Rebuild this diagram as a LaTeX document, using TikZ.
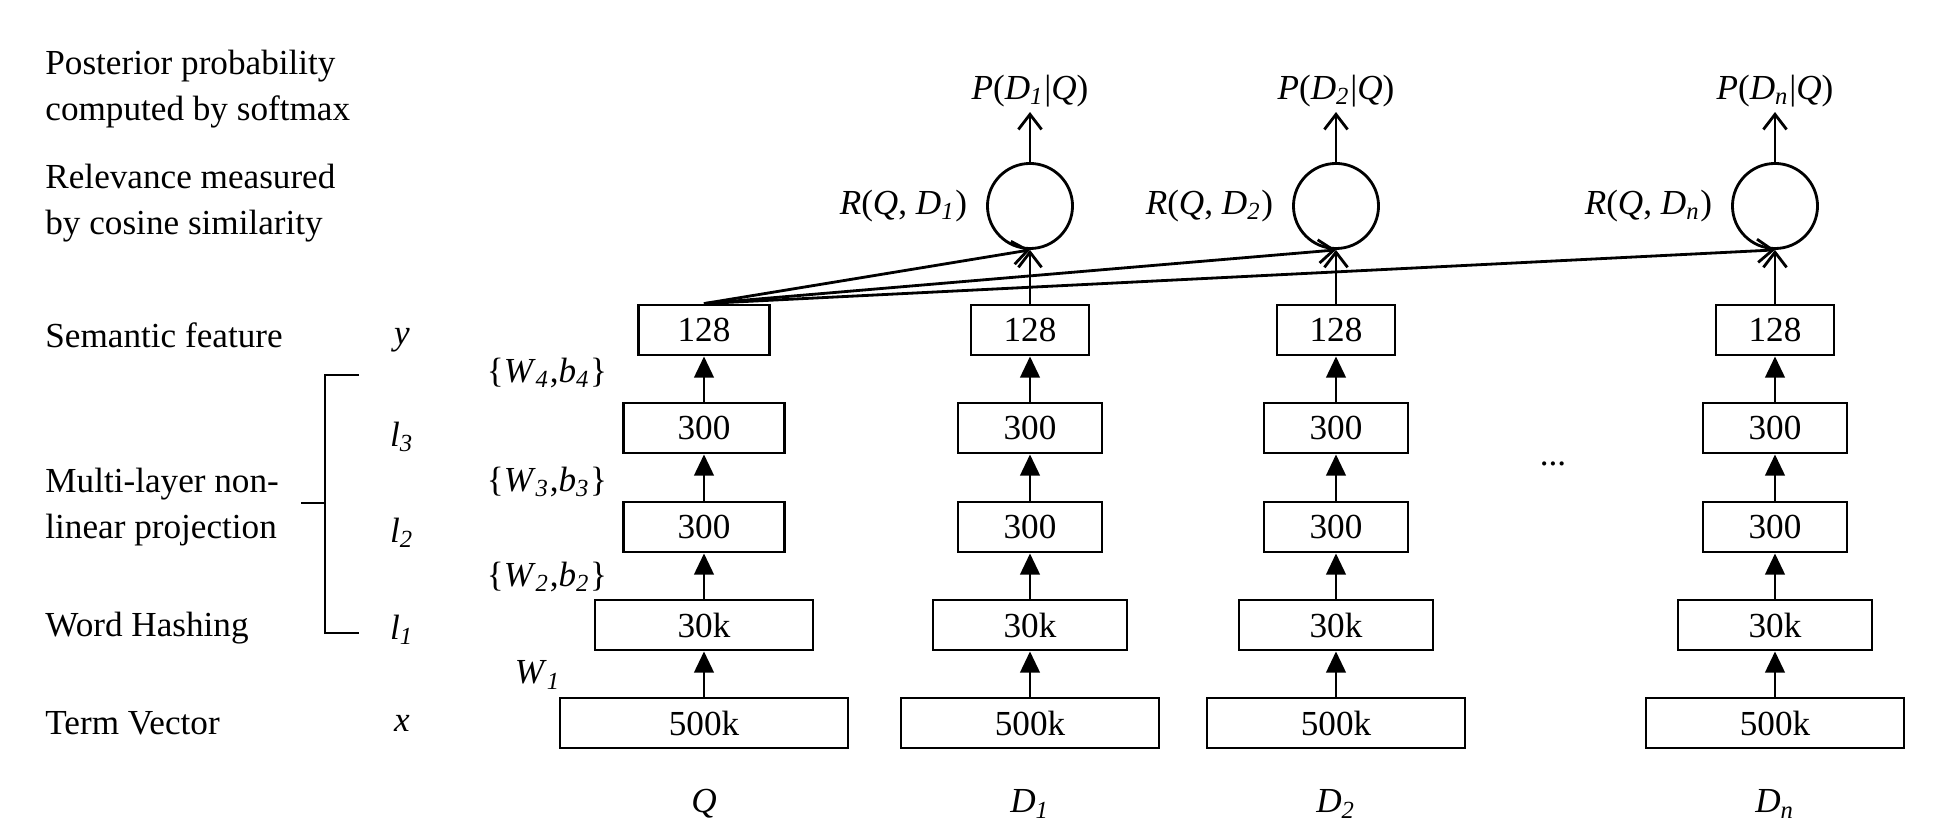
\documentclass[tikz,border=0pt]{standalone}
\usepackage{fontspec}
\setmainfont{Liberation Serif}
\usetikzlibrary{arrows.meta,positioning}

\newcommand{\itx}[1]{\textit{#1}}
\newcommand{\itsub}[1]{\textsubscript{\textit{#1}}}

\begin{document}
\begin{tikzpicture}[x=0.01cm,y=-0.01cm,line width=0.8pt,
        font=\fontsize{10}{13}\selectfont,
        layer/.style={draw,rectangle,inner sep=0pt,minimum height=0.5cm},
        w500/.style={layer,minimum width=2.58cm},
        w30/.style={layer,minimum width=1.94cm},
        w300/.style={layer,minimum width=1.44cm},
        w128/.style={layer,minimum width=1.18cm},
        sim/.style={draw,circle,inner sep=0pt,minimum size=0.85cm},
        fwd/.style={-{Triangle[length=6pt,width=5.5pt]}},
        toward/.style={-{Straight Barb[length=4.3pt,width=6.6pt]}},
        lbl/.style={inner sep=1pt}]
    \useasboundingbox (0,0) rectangle (1938,828);

    % captions on the left
    \begin{scope}[every node/.style={anchor=west,align=left,inner sep=0pt}]
        \node (post) at (44,89) {Posterior probability\\computed by softmax};
        \node (rel) at (44,203) {Relevance measured\\by cosine similarity};
        \node (sem) at (44,335) {Semantic feature};
        \node (mlp) at (44,507) {Multi-layer non-\\linear projection};
        \node (hash) at (44,628) {Word Hashing};
        \node (term) at (44,723) {Term Vector};
    \end{scope}

    \node (vy) at (402,340) {\itx{y}};
    \node (vl3) at (402,437) {\itx{l}\itsub{3}};
    \node (vl2) at (402,533) {\itx{l}\itsub{2}};
    \node (vl1) at (402,630) {\itx{l}\itsub{1}};
    \node (vx) at (402,723) {\itx{x}};
    \draw (359,375) -- (325,375) -- (325,633) -- (359,633) (301,503) -- (325,503);

    \node (wb4) at (547,373) {\{\itx{W}\itsub{4},\itx{b}\itsub{4}\}};
    \node (wb3) at (547,482) {\{\itx{W}\itsub{3},\itx{b}\itsub{3}\}};
    \node (wb2) at (547,577) {\{\itx{W}\itsub{2},\itx{b}\itsub{2}\}};
    \node (w1) at (538,675) {\itx{W}\itsub{1}};

    % query
    \node[layer,minimum width=2.88cm] (Qx) at (704,723) {500k};
    \node[layer,minimum width=2.18cm] (Ql1) at (704,625) {30k};
    \node[layer,minimum width=1.61cm] (Ql2) at (704,527) {300};
    \node[layer,minimum width=1.61cm] (Ql3) at (704,428) {300};
    \node[layer,minimum width=1.31cm] (Qy) at (704,330) {128};

    % documents
    \node[w500] (Ax) at (1030,723) {500k};
    \node[w30] (Al1) at (1030,625) {30k};
    \node[w300] (Al2) at (1030,527) {300};
    \node[w300] (Al3) at (1030,428) {300};
    \node[w128] (Ay) at (1030,330) {128};

    \node[w500] (Bx) at (1336,723) {500k};
    \node[w30] (Bl1) at (1336,625) {30k};
    \node[w300] (Bl2) at (1336,527) {300};
    \node[w300] (Bl3) at (1336,428) {300};
    \node[w128] (By) at (1336,330) {128};

    \node[w500] (Nx) at (1775,723) {500k};
    \node[w30] (Nl1) at (1775,625) {30k};
    \node[w300] (Nl2) at (1775,527) {300};
    \node[w300] (Nl3) at (1775,428) {300};
    \node[w128] (Ny) at (1775,330) {128};

    \node (dots) at (1553,464) {...};

    \node (colq) at (704,804) {\itx{Q}};
    \node (cola) at (1030,804) {\itx{D}\itsub{1}};
    \node (colb) at (1336,804) {\itx{D}\itsub{2}};
    \node (coln) at (1775,804) {\itx{D}\itsub{n}};

    % relevance and posterior
    \node[sim] (Ra) at (1030,206) {};
    \node[sim] (Rb) at (1336,206) {};
    \node[sim] (Rn) at (1775,206) {};
    \node[lbl,left=0.14cm of Ra] (ra) {\itx{R}(\itx{Q}, \itx{D}\itsub{1})};
    \node[lbl,left=0.14cm of Rb] (rb) {\itx{R}(\itx{Q}, \itx{D}\itsub{2})};
    \node[lbl,left=0.14cm of Rn] (rn) {\itx{R}(\itx{Q}, \itx{D}\itsub{n})};
    \node[lbl,above=0.5cm of Ra] (Pa) {\itx{P}(\itx{D}\itsub{1}|\itx{Q})};
    \node[lbl,above=0.5cm of Rb] (Pb) {\itx{P}(\itx{D}\itsub{2}|\itx{Q})};
    \node[lbl,above=0.5cm of Rn] (Pn) {\itx{P}(\itx{D}\itsub{n}|\itx{Q})};

    \path[fwd] (Qx) edge (Ql1) (Ql1) edge (Ql2) (Ql2) edge (Ql3) (Ql3) edge (Qy);
    \path[fwd] (Ax) edge (Al1) (Al1) edge (Al2) (Al2) edge (Al3) (Al3) edge (Ay);
    \path[fwd] (Bx) edge (Bl1) (Bl1) edge (Bl2) (Bl2) edge (Bl3) (Bl3) edge (By);
    \path[fwd] (Nx) edge (Nl1) (Nl1) edge (Nl2) (Nl2) edge (Nl3) (Nl3) edge (Ny);

    \path[toward] (Qy.north) edge (Ra.south) (Qy.north) edge (Rb.south) (Qy.north) edge (Rn.south);
    \path[toward] (Ay) edge (Ra.south) (By) edge (Rb.south) (Ny) edge (Rn.south);
    \path[toward] (Ra) edge (Pa) (Rb) edge (Pb) (Rn) edge (Pn);
\end{tikzpicture}
\end{document}
